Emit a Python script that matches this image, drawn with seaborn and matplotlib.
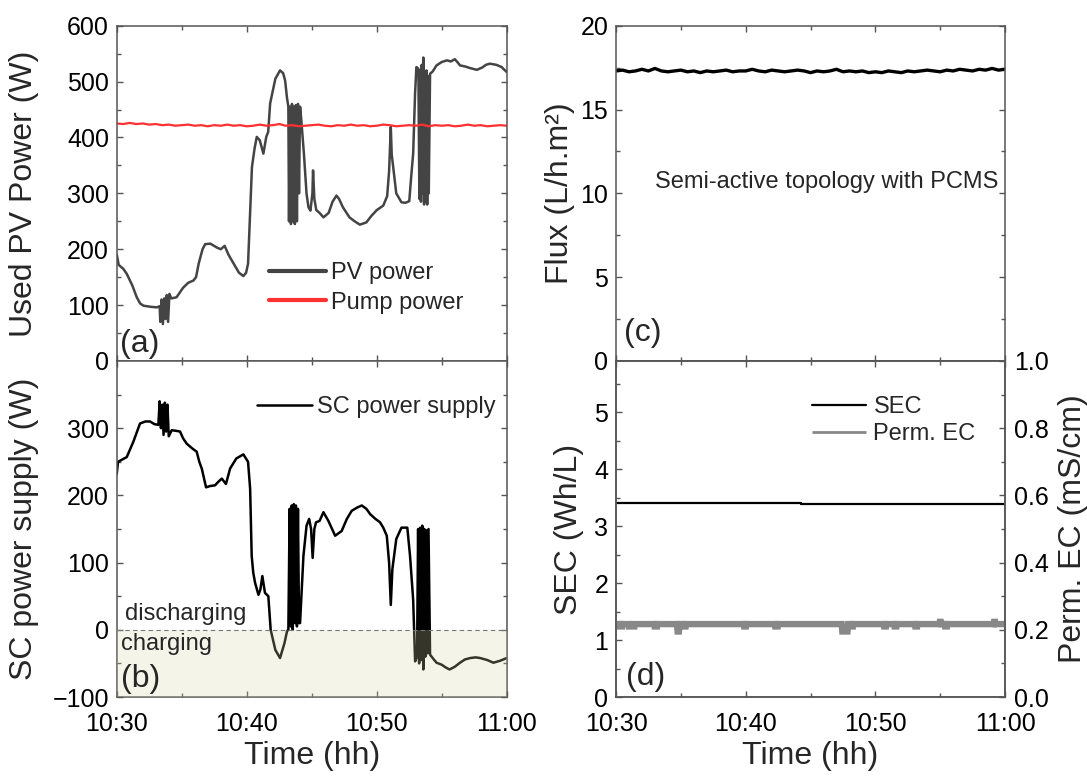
import numpy as np
import pandas as pd
import matplotlib
matplotlib.use("Agg")
import matplotlib.pyplot as plt
import matplotlib.transforms as mtransforms
import seaborn as sns
from matplotlib.ticker import FixedLocator, MultipleLocator, FormatStrFormatter

# ---------------- data (minutes after 10:30) ----------------
TIME_TICKS = [0, 10, 20, 30]
TIME_TICK_LABELS = ["10:30", "10:40", "10:50", "11:00"]

PV_T = [0.0, 0.15, 0.5, 0.77, 1.2, 1.54, 1.8, 2.05, 2.6, 3.08, 3.3,
        3.35, 3.45, 3.55, 3.65, 3.75, 3.85, 3.95, 4.05,
        4.2, 4.6, 5.1, 5.5, 5.9, 6.1, 6.3, 6.6, 6.8, 7.2, 7.7, 8.0, 8.3, 8.6, 9.0, 9.4, 9.74,
        9.95, 10.1, 10.25, 10.4, 10.6, 10.77, 11.0, 11.28, 11.5, 11.65, 11.8, 12.2, 12.56,
        12.8, 12.95, 13.1, 13.2,
        13.25, 13.32, 13.4, 13.48, 13.55, 13.62, 13.7, 13.78, 13.86, 13.94, 14.02, 14.1,
        14.2, 14.4, 14.6, 14.75, 14.9, 15.05, 15.1, 15.2, 15.35, 15.6, 15.9, 16.3, 16.6, 16.9,
        17.1, 17.4, 17.9, 18.3, 18.7, 19.2, 19.6, 20.0, 20.5, 20.8, 20.95, 21.08, 21.15, 21.3,
        21.5, 21.9, 22.2, 22.5, 22.65, 22.8, 22.95, 23.05, 23.2,
        23.28, 23.34, 23.4, 23.46, 23.52, 23.58, 23.64, 23.7, 23.76, 23.82, 23.88, 23.94, 24.0,
        24.1, 24.3, 24.6, 25.0, 25.4, 25.7, 26.0, 26.2, 26.4, 26.8, 27.2, 27.7, 28.1, 28.4,
        28.7, 29.2, 29.6, 30.0]
PV_W = [191, 172, 165, 156, 135, 114, 103, 99, 97, 96, 98,
        70, 110, 66, 112, 75, 118, 70, 120,
        112, 114, 131, 140, 144, 150, 174, 200, 209, 210, 203, 200, 206, 190, 174, 158, 152,
        158, 174, 260, 347, 380, 401, 395, 371, 401, 410, 461, 505, 520,
        515, 502, 470, 455,
        250, 455, 245, 460, 250, 455, 245, 458, 250, 460, 300, 455,
        430, 370, 299, 275, 269, 300, 341, 290, 270, 265, 257, 265, 285, 296,
        290, 275, 257, 250, 244, 248, 260, 270, 278, 295, 340, 419, 370, 340,
        300, 284, 283, 286, 330, 371, 480, 526, 523,
        290, 520, 285, 530, 300, 543, 280, 515, 285, 520, 280, 510, 300,
        514, 518, 529, 535, 538, 536, 540, 535, 529, 527, 524, 521, 525, 530,
        532, 530, 526, 517]

SC_T = [0.0, 0.1, 0.77, 1.28, 1.79, 2.2, 2.56, 2.9, 3.2,
        3.3, 3.4, 3.5, 3.6, 3.7, 3.8, 3.9, 4.0,
        4.23, 4.6, 4.87, 5.1, 5.38, 5.8, 6.15, 6.35, 6.54, 6.87, 7.2, 7.56, 7.8, 8.08, 8.4,
        8.72, 9.2, 9.74, 10.1, 10.26, 10.38, 10.5, 10.64, 10.9, 11.05, 11.2, 11.4, 11.66,
        11.84, 12.2, 12.56, 12.9, 13.1, 13.2,
        13.3, 13.38, 13.46, 13.54, 13.62, 13.7, 13.78, 13.86, 13.94, 14.02, 14.1,
        14.36, 14.6, 14.8, 14.95, 15.07, 15.2, 15.33, 15.6, 15.9, 16.28, 16.8, 17.3, 17.7,
        18.07, 18.5, 18.85, 19.2, 19.5, 19.9, 20.25, 20.5, 20.77, 20.95, 21.08, 21.2, 21.5,
        21.9, 22.35, 22.56, 22.8, 22.95, 23.1,
        23.18, 23.26, 23.34, 23.42, 23.5, 23.58, 23.66, 23.74, 23.82, 23.9, 23.98,
        24.1, 24.3, 24.6, 25.0, 25.3, 25.6, 26.0, 26.4, 26.8, 27.2, 27.6, 27.95, 28.5,
        28.97, 29.5, 30.0]
SC_W = [232, 250, 257, 280, 307, 310, 310, 306, 305,
        340, 300, 335, 290, 338, 295, 335, 288,
        297, 296, 295, 285, 277, 270, 265, 250, 240, 212, 214, 215, 220, 225, 217,
        240, 255, 261, 250, 210, 110, 85, 70, 52, 60, 80, 55, 50,
        0, -30, -42, -20, -2, 0,
        180, 5, 185, 0, 187, 10, 185, 5, 180, 10, 10,
        110, 155, 165, 150, 107, 150, 160, 162, 175, 162, 140, 147, 165,
        177, 182, 185, 180, 172, 165, 160, 152, 140, 100, 37, 90, 135,
        152, 152, 110, 45, -47, -40,
        150, -50, 152, -45, 155, -59, 150, -40, 148, -35, 150,
        -37, -42, -49, -52, -56, -59, -55, -49, -44, -42, -41, -42, -45,
        -49, -46, -42]

NOISE_T = [0.0, 0.5, 1.0, 1.5, 2.0, 2.5, 3.0, 3.5, 4.0, 4.5,
           5.0, 5.5, 6.0, 6.5, 7.0, 7.5, 8.0, 8.5, 9.0, 9.5,
           10.0, 10.5, 11.0, 11.5, 12.0, 12.5, 13.0, 13.5, 14.0, 14.5,
           15.0, 15.5, 16.0, 16.5, 17.0, 17.5, 18.0, 18.5, 19.0, 19.5,
           20.0, 20.5, 21.0, 21.5, 22.0, 22.5, 23.0, 23.5, 24.0, 24.5,
           25.0, 25.5, 26.0, 26.5, 27.0, 27.5, 28.0, 28.5, 29.0, 29.5,
           30.0]
PUMP_W = [425, 424, 426, 424, 425, 423, 424, 422, 423, 421,
          422, 423, 421, 422, 420, 422, 421, 423, 421, 422,
          420, 421, 423, 421, 422, 424, 421, 422, 420, 421,
          422, 423, 421, 420, 422, 421, 423, 421, 422, 420,
          421, 423, 422, 420, 421, 422, 421, 423, 420, 422,
          421, 422, 420, 421, 423, 421, 422, 420, 421, 422,
          421]
FLUX = [17.30, 17.35, 17.25, 17.30, 17.40, 17.30, 17.45, 17.30, 17.25, 17.30,
        17.35, 17.25, 17.30, 17.20, 17.30, 17.25, 17.30, 17.35, 17.25, 17.30,
        17.30, 17.40, 17.30, 17.25, 17.35, 17.30, 17.25, 17.30, 17.35, 17.30,
        17.20, 17.30, 17.25, 17.30, 17.40, 17.25, 17.30, 17.25, 17.30, 17.20,
        17.25, 17.20, 17.30, 17.25, 17.20, 17.30, 17.25, 17.30, 17.35, 17.30,
        17.25, 17.35, 17.30, 17.40, 17.35, 17.30, 17.40, 17.35, 17.45, 17.35,
        17.40]

SEC_T = [0.0, 14.3, 14.3, 30.0]
SEC = [3.40, 3.40, 3.385, 3.385]

PERM_T = [0.0, 0.3, 0.3, 0.45, 0.45, 1.0, 1.0, 1.4, 1.4, 3.0, 3.0, 3.15, 3.15,
          4.7, 4.75, 4.85, 4.9, 5.2, 5.2, 5.35, 5.35, 9.9, 9.9, 10.0, 10.0,
          12.3, 12.3, 12.45, 12.45, 17.4, 17.45, 17.85, 17.9, 18.1, 18.1, 18.25, 18.25,
          20.7, 20.7, 20.8, 20.8, 21.5, 21.5, 21.6, 21.6, 23.1, 23.1, 23.2, 23.2,
          24.95, 25.0, 25.05, 25.4, 25.4, 25.5, 25.5, 29.15, 29.2, 29.25, 30.0]
PERM_EC = [0.217, 0.217, 0.210, 0.210, 0.217, 0.217, 0.210, 0.210, 0.217, 0.217, 0.210, 0.210, 0.217,
           0.217, 0.195, 0.195, 0.217, 0.217, 0.210, 0.210, 0.217, 0.217, 0.210, 0.210, 0.217,
           0.217, 0.210, 0.210, 0.217, 0.217, 0.195, 0.195, 0.217, 0.217, 0.210, 0.210, 0.217,
           0.217, 0.210, 0.210, 0.217, 0.217, 0.210, 0.210, 0.217, 0.217, 0.210, 0.210, 0.217,
           0.217, 0.232, 0.217, 0.217, 0.210, 0.210, 0.217, 0.217, 0.232, 0.217, 0.217]

# ---------------- style ----------------
sns.set_theme(style="ticks")
plt.rcParams['font.family'] = ['Liberation Sans', 'DejaVu Sans']
plt.rcParams['axes.linewidth'] = 1.1
plt.rcParams['axes.edgecolor'] = '#555555'

TICK_FS = 18
LABEL_FS = 23
LEG_FS = 17
PANEL_FS = 23
EDGE = '#555555'

fig = plt.figure(figsize=(10.87, 7.76), dpi=100)
fig.patch.set_facecolor('white')

LX, LW = 0.1074, 0.3588
RX, RW = 0.5667, 0.3579
TY, TH = 0.5348, 0.4321
BY, BH = 0.1018, 0.4330

ax_a = fig.add_axes([LX, TY, LW, TH])
ax_b = fig.add_axes([LX, BY, LW, BH])
ax_c = fig.add_axes([RX, TY, RW, TH])
ax_d = fig.add_axes([RX, BY, RW, BH])
ax_d2 = ax_d.twinx()


def style_ax(ax, right=True):
    ax.set_facecolor('white')
    ax.set_xlim(0, 30)
    ax.xaxis.set_major_locator(FixedLocator(TIME_TICKS))
    ax.xaxis.set_minor_locator(FixedLocator([5, 15, 25]))
    ax.tick_params(which='both', direction='in', top=True, right=right,
                   color=EDGE, labelcolor='black', labelsize=TICK_FS, width=1.0)
    ax.tick_params(which='major', length=4.5)
    ax.tick_params(which='minor', length=3.0)
    ax.tick_params(axis='y', which='both', pad=5.5)
    ax.tick_params(axis='x', which='both', pad=11)
    for s in ax.spines.values():
        s.set_color(EDGE)
        s.set_linewidth(1.1)
    ax.grid(False)


# ---- (a) ----
sns.lineplot(x=PV_T, y=PV_W, ax=ax_a, color='#444444', linewidth=1.8,
             estimator=None, sort=False, label='PV power', legend=False)
sns.lineplot(x=NOISE_T, y=PUMP_W, ax=ax_a, color='#ff3030', linewidth=1.6,
             estimator=None, sort=False, label='Pump power', legend=False)
style_ax(ax_a)
ax_a.set_ylim(0, 600)
ax_a.yaxis.set_major_locator(MultipleLocator(100))
ax_a.yaxis.set_minor_locator(MultipleLocator(50))
ax_a.tick_params(labelbottom=False)
ax_a.set_xlabel('')
ax_a.set_ylabel('Used PV Power (W)', fontsize=LABEL_FS)
ax_a.yaxis.set_label_coords(-0.199, 0.5)
leg = ax_a.legend(loc='center left', bbox_to_anchor=(0.39, 0.2177), frameon=False,
                  fontsize=LEG_FS, handlelength=2.4, handletextpad=0.25,
                  labelspacing=0.3, borderpad=0, borderaxespad=0)
for ln in leg.get_lines():
    ln.set_linewidth(3.0)
ax_a.text(0.008, 0.027, '(a)', transform=ax_a.transAxes, fontsize=PANEL_FS,
          ha='left', va='baseline')

# ---- (b) ----
sns.lineplot(x=SC_T, y=SC_W, ax=ax_b, color='black', linewidth=1.8,
             estimator=None, sort=False, label='SC power supply', legend=False)
style_ax(ax_b)
ax_b.set_ylim(-100, 400)
ax_b.yaxis.set_major_locator(FixedLocator([-100, 0, 100, 200, 300]))
ax_b.yaxis.set_minor_locator(FixedLocator([-50, 50, 150, 250, 350]))
ax_b.axhspan(-100, 0, facecolor=(215/255, 215/255, 171/255), alpha=0.25,
             edgecolor='none', zorder=3)
ax_b.axhline(0, color='#777777', linewidth=0.8, linestyle=(0, (4, 3)), zorder=4)
ax_b.set_xticklabels(TIME_TICK_LABELS)
ax_b.set_xlabel('Time (hh)', fontsize=LABEL_FS)
ax_b.xaxis.set_label_coords(0.5, -0.131)
ax_b.set_ylabel('SC power supply (W)', fontsize=LABEL_FS)
ax_b.yaxis.set_label_coords(-0.199, 0.5)
ax_b.legend(loc='center left', bbox_to_anchor=(0.359, 0.862), frameon=False,
            fontsize=LEG_FS, handlelength=2.35, handletextpad=0.22,
            borderpad=0, borderaxespad=0)
blend_b = mtransforms.blended_transform_factory(ax_b.transAxes, ax_b.transData)
ax_b.text(0.02, 15, 'discharging', transform=blend_b,
          fontsize=LEG_FS, ha='left', va='baseline', zorder=5)
ax_b.text(0.012, -30, 'charging', transform=blend_b,
          fontsize=LEG_FS, ha='left', va='baseline', zorder=5)
ax_b.text(0.012, 0.03, '(b)', transform=ax_b.transAxes, fontsize=PANEL_FS,
          ha='left', va='baseline', zorder=5)

# ---- (c) ----
sns.lineplot(x=NOISE_T, y=FLUX, ax=ax_c, color='black', linewidth=2.4,
             estimator=None, sort=False, legend=False)
style_ax(ax_c)
ax_c.set_ylim(0, 20)
ax_c.yaxis.set_major_locator(MultipleLocator(5))
ax_c.yaxis.set_minor_locator(MultipleLocator(2.5))
ax_c.tick_params(labelbottom=False)
ax_c.set_xlabel('')
ax_c.set_ylabel('Flux (L/h.m²)', fontsize=LABEL_FS)
ax_c.yaxis.set_label_coords(-0.105, 0.5)
ax_c.text(0.982, 0.535, 'Semi-active topology with PCMS', transform=ax_c.transAxes,
          fontsize=LEG_FS, ha='right', va='center')
ax_c.text(0.02, 0.059, '(c)', transform=ax_c.transAxes, fontsize=PANEL_FS,
          ha='left', va='baseline')

# ---- (d) ----
sns.lineplot(x=SEC_T, y=SEC, ax=ax_d, color='black', linewidth=1.6,
             estimator=None, sort=False, label='SEC', legend=False)
sns.lineplot(x=PERM_T, y=PERM_EC, ax=ax_d2, color='#888888', linewidth=4.6,
             estimator=None, sort=False, label='Perm. EC', legend=False,
             solid_joinstyle='miter', solid_capstyle='butt')
style_ax(ax_d, right=False)
ax_d.set_ylim(0, 5.9)
ax_d.yaxis.set_major_locator(MultipleLocator(1))
ax_d.yaxis.set_minor_locator(MultipleLocator(0.5))
ax_d.set_xticklabels(TIME_TICK_LABELS)
ax_d.set_xlabel('Time (hh)', fontsize=LABEL_FS)
ax_d.xaxis.set_label_coords(0.5, -0.131)
ax_d.set_ylabel('SEC (Wh/L)', fontsize=LABEL_FS)
ax_d.yaxis.set_label_coords(-0.082, 0.5)

ax_d2.set_ylim(0, 1.0)
ax_d2.yaxis.set_major_locator(MultipleLocator(0.2))
ax_d2.yaxis.set_minor_locator(MultipleLocator(0.1))
ax_d2.yaxis.set_major_formatter(FormatStrFormatter('%.1f'))
ax_d2.tick_params(which='both', direction='in', left=False, right=True,
                  color=EDGE, labelcolor='black', labelsize=TICK_FS, width=1.0, pad=6.5)
ax_d2.tick_params(which='major', length=4.5)
ax_d2.tick_params(which='minor', length=3.0)
for s in ax_d2.spines.values():
    s.set_color(EDGE)
    s.set_linewidth(1.1)
ax_d2.set_ylabel('Perm. EC (mS/cm)', fontsize=LABEL_FS)
ax_d2.yaxis.set_label_coords(1.136, 0.5)
ax_d2.grid(False)

h1, l1 = ax_d.get_legend_handles_labels()
h2, l2 = ax_d2.get_legend_handles_labels()
legd = ax_d2.legend(h1 + h2, l1 + l2, loc='center left', bbox_to_anchor=(0.504, 0.822),
                    frameon=False, fontsize=LEG_FS, handlelength=2.3, handletextpad=0.3,
                    labelspacing=0.22, borderpad=0, borderaxespad=0)
legd.get_lines()[1].set_linewidth(2.0)
ax_d.text(0.026, 0.036, '(d)', transform=ax_d.transAxes, fontsize=PANEL_FS,
          ha='left', va='baseline')

fig.savefig('out.png', dpi=100, facecolor='white')
